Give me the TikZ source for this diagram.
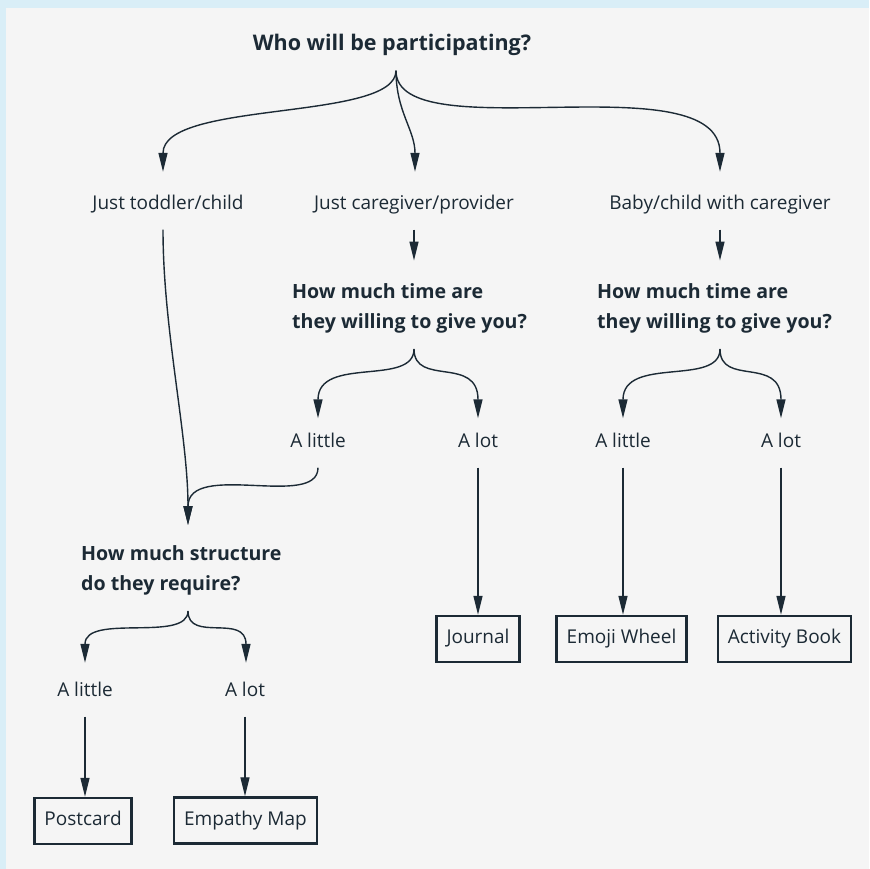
\documentclass[tikz,border=0pt]{standalone}
\usepackage{fontspec}
\setmainfont{Open Sans}
\usetikzlibrary{arrows.meta,calc}
\definecolor{ink}{HTML}{1C2A35}
\definecolor{frame}{HTML}{D9EEF7}
\definecolor{paper}{HTML}{F5F5F5}

\begin{document}
\begin{tikzpicture}
  [x=1pt,y=-1pt,
   every node/.style={text=ink,font=\fontsize{19}{30}\selectfont,inner xsep=0pt,inner ysep=16pt,text height=13pt,text depth=4pt},
   ask/.style={font=\fontsize{19.6}{30}\selectfont\bfseries,align=left},
   card/.style={draw=ink,line width=2.5pt,inner xsep=10pt,inner ysep=0pt,minimum height=46pt},
   arr/.style={draw=ink,line width=1.4pt,-{Triangle[length=19pt,width=9pt]}}]
  \fill[frame] (0,0) rectangle (869,869);
  \fill[paper] (6,8) rectangle (869,869);
  \useasboundingbox (0,0) rectangle (869,869);

  % questions
  \node[ask,font=\fontsize{21.5}{30}\selectfont\bfseries] (who) at (392,46) {Who will be participating?};
  \node[ask,anchor=west,text height={},text depth={}] (timeA) at (292,308) {How much time are\\they willing to give you?};
  \node[ask,anchor=west,text height={},text depth={}] (timeB) at (597,308) {How much time are\\they willing to give you?};
  \node[ask,anchor=west,text height={},text depth={}] (struct) at (81,570) {How much structure\\do they require?};

  % answers
  \node (tod) at (168,205) {Just toddler/child};
  \node (care) at (414,205) {Just caregiver/provider};
  \node (baby) at (720,205) {Baby/child with caregiver};
  \node (littleA) at (318,443) {A little};
  \node (lotA) at (478,443) {A lot};
  \node (littleB) at (623,443) {A little};
  \node (lotB) at (781,443) {A lot};
  \node (littleC) at (85,692) {A little};
  \node (lotC) at (245,692) {A lot};

  % methods
  \node[card] (postcard) at (83,821) {Postcard};
  \node[card] (empathy) at (245.5,820.5) {Empathy Map};
  \node[card] (journal) at (478,639) {Journal};
  \node[card] (emoji) at (621.5,639) {Emoji Wheel};
  \node[card] (activity) at (784.5,639) {Activity Book};

  \coordinate (merge) at (188,525);

  % forks
  \draw[arr] ($(who.south)+(4,0)$) .. controls +(0,51) and +(0,-72) .. ($(tod.north)+(-5,-8.5)$);
  \draw[arr] ($(who.south)+(4,0)$) .. controls +(0,41) and +(0,-42) .. ($(care.north)+(1,-8.5)$);
  \draw[arr] ($(who.south)+(4,0)$) .. controls +(0,81) and +(0,-112) .. ($(baby.north)+(0,-8.5)$);

  \draw[arr] (care.south) -- ($(care |- timeA.north)+(0,-6.5)$);
  \draw[arr] (baby.south) -- ($(baby |- timeB.north)+(0,-6.5)$);

  \draw[arr] (care |- timeA.south) .. controls +(0,38) and +(0,-63) .. (littleA.north);
  \draw[arr] (care |- timeA.south) .. controls +(0,38) and +(0,-63) .. (lotA.north);
  \draw[arr] (baby |- timeB.south) .. controls +(0,38) and +(0,-63) .. (littleB.north);
  \draw[arr] (baby |- timeB.south) .. controls +(0,38) and +(0,-63) .. (lotB.north);

  \draw[arr] ($(tod.south)+(-5,0)$) .. controls +(0,100) and +(0,-90) .. (merge);
  \draw[arr] (littleA.south) .. controls +(0,42) and +(0,-65) .. (merge);

  \draw[arr] (merge |- struct.south) .. controls +(0,32) and +(0,-50) .. ($(littleC.north)+(0,-4.5)$);
  \draw[arr] (merge |- struct.south) .. controls +(0,32) and +(0,-50) .. ($(lotC.north)+(1,-4.5)$);

  \foreach \from/\to in {lotA/journal,littleB/emoji,lotB/activity,littleC/postcard,lotC/empathy}
    \draw[arr] (\from.south) -- (\from.south |- \to.north);

\end{tikzpicture}
\end{document}
